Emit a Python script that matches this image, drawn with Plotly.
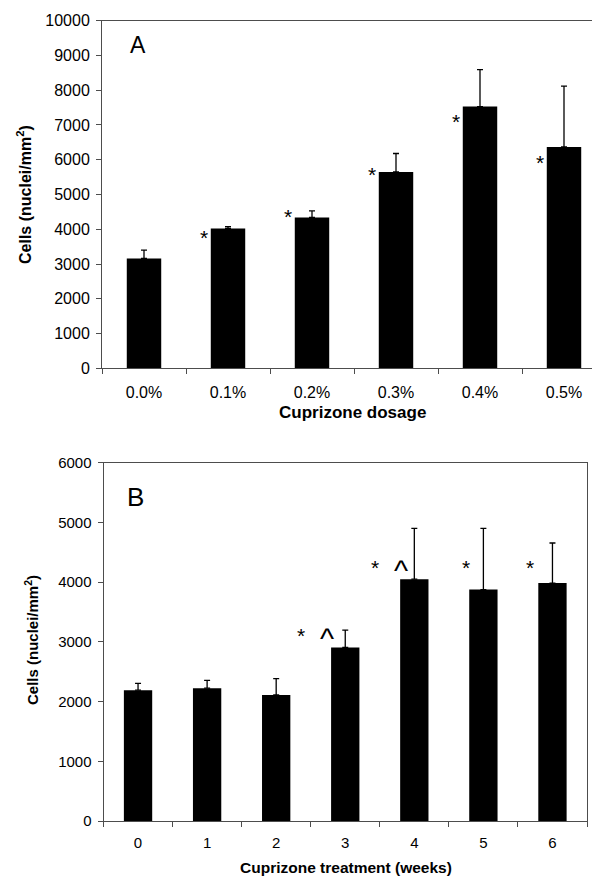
import plotly.graph_objects as go

W, H = 592, 878

# Panel A data
dose_labels = ["0.0%", "0.1%", "0.2%", "0.3%", "0.4%", "0.5%"]
dose_cells = [3160, 4025, 4340, 5650, 7530, 6370]
dose_err = [240, 50, 190, 530, 1060, 1750]
dose_sig = ["", "*", "*", "*", "*", "*"]
dose_sig_y = [0, 3900, 4525, 5730, 7250, 6060]

# Panel B data
week_labels = ["0", "1", "2", "3", "4", "5", "6"]
week_cells = [2190, 2225, 2110, 2905, 4050, 3875, 3985]
week_err = [115, 130, 275, 290, 850, 1025, 670]
week_sig = ["", "", "", "*", "*", "*", "*"]
week_sig_y = [0, 0, 0, 3185, 4330, 4330, 4330]
week_hat = ["", "", "", "^", "^", "", ""]
week_hat_y = [0, 0, 0, 3150, 4290, 0, 0]

FONT = "Liberation Sans, Arial, Helvetica, sans-serif"

def px_x(p):
    return p / W

def px_y(p):
    return 1 - p / H

fig = go.Figure()
fig.add_trace(go.Bar(
    x=dose_labels, y=dose_cells, width=0.41,
    marker=dict(color="black", line=dict(width=0)),
    error_y=dict(type="data", array=dose_err, arrayminus=[0]*len(dose_err),
                 symmetric=False, color="black", thickness=1.3, width=3),
    xaxis="x", yaxis="y", showlegend=False,
))
fig.add_trace(go.Bar(
    x=week_labels, y=week_cells, width=0.41,
    marker=dict(color="black", line=dict(width=0)),
    error_y=dict(type="data", array=week_err, arrayminus=[0]*len(week_err),
                 symmetric=False, color="black", thickness=1.3, width=3),
    xaxis="x2", yaxis="y2", showlegend=False,
))

axcol = "#4d4d4d"
common_x = dict(type="category", showline=True, linecolor=axcol, linewidth=1,
                ticks="outside", tickson="boundaries", ticklen=5, tickcolor=axcol,
                showgrid=False, zeroline=False, mirror=True, automargin=False,
                tickfont=dict(family=FONT, color="black"))
common_y = dict(showline=True, linecolor=axcol, linewidth=1, ticks="outside",
                ticklen=5, tickcolor=axcol, showgrid=False, zeroline=False,
                automargin=False,
                dtick=1000, tickformat="d", tickfont=dict(family=FONT, color="black"))

xa = dict(common_x)
xa.update(domain=[px_x(102), 1.0], range=[-0.5, -0.5 + 490/84], anchor="y",
          tickfont=dict(family=FONT, size=16, color="black"), ticklabelstandoff=9)
ya = dict(common_y)
ya.update(domain=[px_y(368.3), px_y(20.7)], range=[0, 10000], anchor="x",
          tickfont=dict(family=FONT, size=16, color="black"), ticklabelstandoff=3)

xb = dict(common_x)
xb.update(domain=[px_x(103.5), px_x(587)], range=[-0.5, 6.5], anchor="y2",
          tickfont=dict(family=FONT, size=15, color="black"), ticklabelstandoff=8)
yb = dict(common_y)
yb.update(domain=[px_y(821), px_y(462.7)], range=[0, 6000], anchor="x2", mirror=True,
          tickfont=dict(family=FONT, size=15, color="black"), ticklabelstandoff=3)

annotations = []
# Panel labels
annotations.append(dict(text="A", xref="paper", yref="paper", x=px_x(138), y=px_y(45),
                        showarrow=False, font=dict(family=FONT, size=23, color="black"),
                        xanchor="center", yanchor="middle"))
annotations.append(dict(text="B", xref="paper", yref="paper", x=px_x(135.5), y=px_y(497),
                        showarrow=False, font=dict(family=FONT, size=26, color="black"),
                        xanchor="center", yanchor="middle"))
# Axis titles
annotations.append(dict(text="<b>Cells (nuclei/mm<sup>2</sup>)</b>", xref="paper", yref="paper",
                        x=px_x(24), y=px_y(195), textangle=-90, showarrow=False,
                        font=dict(family=FONT, size=16, color="black"),
                        xanchor="center", yanchor="middle"))
annotations.append(dict(text="<b>Cells (nuclei/mm<sup>2</sup>)</b>", xref="paper", yref="paper",
                        x=px_x(31), y=px_y(640), textangle=-90, showarrow=False,
                        font=dict(family=FONT, size=15, color="black"),
                        xanchor="center", yanchor="middle"))
annotations.append(dict(text="<b>Cuprizone dosage</b>", xref="paper", yref="paper",
                        x=px_x(352), y=px_y(413), showarrow=False,
                        font=dict(family=FONT, size=17, color="black"),
                        xanchor="center", yanchor="middle"))
annotations.append(dict(text="<b>Cuprizone treatment (weeks)</b>", xref="paper", yref="paper",
                        x=px_x(346), y=px_y(867), showarrow=False,
                        font=dict(family=FONT, size=15.5, color="black"),
                        xanchor="center", yanchor="middle"))

# Significance markers panel A
for i, (s, yv) in enumerate(zip(dose_sig, dose_sig_y)):
    if s:
        annotations.append(dict(text=s, x=i - 0.29, y=yv, xref="x", yref="y",
                                showarrow=False, yshift=-5,
                                font=dict(family=FONT, size=21, color="black"),
                                xanchor="center", yanchor="middle"))
# Panel B markers
star_off = [0, 0, 0, -0.64, -0.57, -0.25, -0.32]
for i, (s, yv) in enumerate(zip(week_sig, week_sig_y)):
    if s:
        annotations.append(dict(text=s, x=i + star_off[i], y=yv, xref="x2", yref="y2",
                                showarrow=False, yshift=-5,
                                font=dict(family=FONT, size=21, color="black"),
                                xanchor="center", yanchor="middle"))
hat_off = [0, 0, 0, -0.27, -0.20, 0, 0]
for i, (s, yv) in enumerate(zip(week_hat, week_hat_y)):
    if s:
        annotations.append(dict(text=s, x=i + hat_off[i], y=yv, xref="x2", yref="y2",
                                showarrow=False, yshift=-6,
                                font=dict(family=FONT, size=30, color="black"),
                                xanchor="center", yanchor="middle"))

fig.update_layout(
    width=W, height=H, margin=dict(l=0, r=0, t=0, b=0, autoexpand=False),
    paper_bgcolor="white", plot_bgcolor="white",
    xaxis=xa, yaxis=ya, xaxis2=xb, yaxis2=yb,
    annotations=annotations, bargap=0.5,
    font=dict(family=FONT, color="black"),
)

fig.write_html("out.html", config={"displayModeBar": False},
               post_script="document.body.style.margin='0px';document.body.style.padding='0px';")
